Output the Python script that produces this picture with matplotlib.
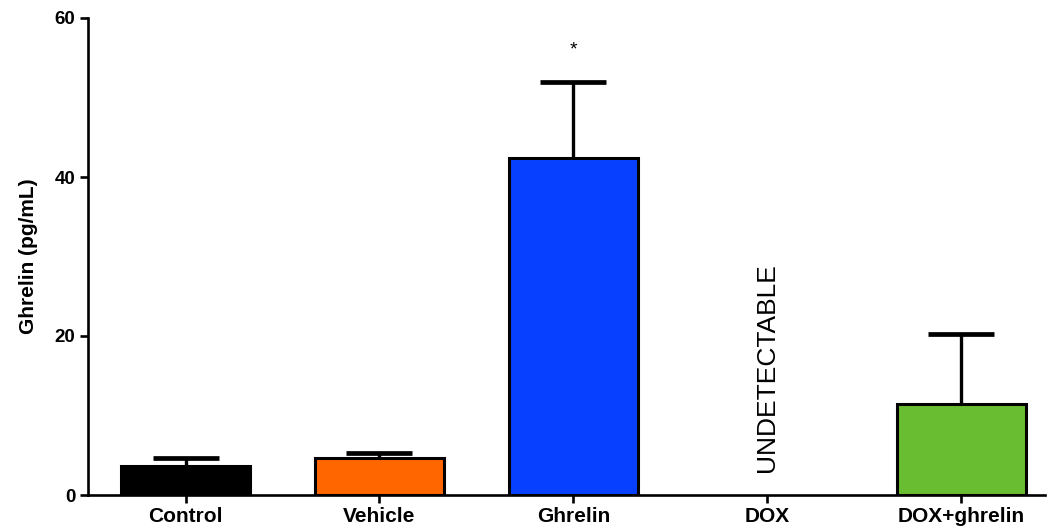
import matplotlib
matplotlib.use("Agg")
import matplotlib.pyplot as plt
import numpy as np

plt.rcParams['font.family'] = ['Liberation Sans', 'DejaVu Sans']

categories = ["Control", "Vehicle", "Ghrelin", "DOX", "DOX+ghrelin"]
means = [3.6, 4.7, 42.4, np.nan, 11.4]
errors = [1.0, 0.6, 9.6, np.nan, 8.8]
colors = ["#000000", "#FF6600", "#0840FF", "#FFFFFF", "#69BD30"]
yticks = [0, 20, 40, 60]
star_label = "*"
undetect_label = "UNDETECTABLE"

fig = plt.figure(figsize=(10.47, 5.29), dpi=100)
ax = fig.add_axes([88/1047, 1-495/529, (1045-88)/1047, (495-18)/529])

x = np.arange(len(categories))
for i in range(len(categories)):
    if np.isnan(means[i]):
        continue
    cont = ax.errorbar(x[i], means[i], yerr=[[0], [errors[i]]], fmt='none',
                       ecolor='black', elinewidth=2.4, capsize=24, capthick=3.4,
                       zorder=2)
    caps = cont.lines[1]
    if len(caps) >= 2:
        caps[0].set_visible(False)
    ax.bar(x[i], means[i], width=0.665, color=colors[i], edgecolor='black',
           linewidth=2.2, zorder=3)

ax.text(x[2], 56.0, star_label, ha='center', va='center', fontsize=14)
ax.text(x[3], 16.0, undetect_label, rotation=90, ha='center', va='center',
        fontsize=19)

ax.set_xlim(-0.503, 4.433)
ax.set_ylim(0, 60)
ax.set_yticks(yticks)
ax.set_yticklabels([str(t) for t in yticks])
ax.set_xticks(x)
ax.set_xticklabels(categories)

for lab in ax.get_xticklabels():
    lab.set_fontweight('bold')
    lab.set_fontsize(15)
for lab in ax.get_yticklabels():
    lab.set_fontweight('bold')
    lab.set_fontsize(13.5)

ax.set_ylabel("Ghrelin (pg/mL)", fontsize=15, fontweight='bold', labelpad=12)

ax.spines['top'].set_visible(False)
ax.spines['right'].set_visible(False)
ax.spines['left'].set_linewidth(1.9)
ax.spines['bottom'].set_linewidth(1.9)
ax.tick_params(axis='both', width=1.9, length=6, direction='out', pad=3)
ax.minorticks_off()

fig.savefig("out.png", dpi=100)
